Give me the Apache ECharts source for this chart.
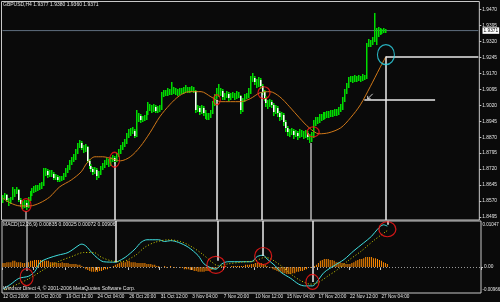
<!DOCTYPE html>
<html><head><meta charset="utf-8">
<script src="https://cdn.jsdelivr.net/npm/echarts@6/dist/echarts.min.js"></script>
<style>html,body{margin:0;padding:0;background:#0a0a0a}#c{width:500px;height:302px}</style>
</head><body><div id="c"></div>
<script>
const symbolText = 'GBPUSD,H4 1.9377 1.9380 1.9360 1.9371';
const macdText = 'MACD(12,26,9) 0.00835 0.00025 0.00072 0.00906';
const copyrightText = 'Windsor Direct 4, \u00a9 2001-2006 MetaQuotes Software Corp.';
const timeLabels = ['12 Oct 2006','16 Oct 20:00','19 Oct 12:00','24 Oct 04:00','26 Oct 20:00','31 Oct 12:00','3 Nov 04:00','7 Nov 20:00','10 Nov 12:00','15 Nov 04:00','17 Nov 20:00','22 Nov 12:00','27 Nov 04:00'];
const priceTicks = [1.8495,1.8570,1.8645,1.8720,1.8795,1.8870,1.8945,1.9020,1.9095,1.9170,1.9245,1.9320,1.9395,1.9470];
const bidPrice = 1.9371;
const macdTopLabel = '0.01047';
const macdBottomLabel = '-0.00966';

const opens = [
1.8575,1.8584,1.8599,1.8575,1.8566,1.8580,1.8594,1.8613,1.8622,1.8575,
1.8556,1.8547,1.8561,1.8542,1.8575,1.8603,1.8617,1.8622,1.8632,1.8627,
1.8641,1.8646,1.8702,1.8712,1.8693,1.8707,1.8698,1.8679,1.8684,1.8669,
1.8679,1.8674,1.8688,1.8707,1.8726,1.8749,1.8764,1.8773,1.8801,1.8829,
1.8843,1.8820,1.8811,1.8825,1.8759,1.8735,1.8721,1.8707,1.8716,1.8688,
1.8698,1.8726,1.8735,1.8749,1.8754,1.8745,1.8764,1.8773,1.8759,1.8782,
1.8801,1.8820,1.8829,1.8848,1.8877,1.8891,1.8895,1.8900,1.8877,1.8952,
1.8971,1.8952,1.8957,1.8961,1.8980,1.9018,1.9008,1.8999,1.9013,1.8994,
1.9004,1.9008,1.9070,1.9079,1.9074,1.9084,1.9079,1.9088,1.9093,1.9084,
1.9079,1.9088,1.9084,1.9093,1.9098,1.9088,1.9093,1.9098,1.9088,1.8999,
1.9008,1.8990,1.9008,1.8985,1.8975,1.8966,1.8971,1.8985,1.9027,1.9060,
1.9084,1.9074,1.9088,1.9060,1.9065,1.9074,1.9055,1.9065,1.9070,1.9060,
1.9074,1.9065,1.8999,1.9046,1.9060,1.9065,1.9084,1.9140,1.9150,1.9131,
1.9121,1.9140,1.9112,1.9084,1.9055,1.9032,1.9022,1.9037,1.9022,1.8990,
1.9008,1.8985,1.8966,1.8975,1.8942,1.8914,1.8895,1.8891,1.8900,1.8881,
1.8891,1.8877,1.8895,1.8886,1.8877,1.8891,1.8872,1.8862,1.8877,1.8933,
1.8952,1.8947,1.8966,1.8961,1.8975,1.8971,1.8980,1.8975,1.8985,1.8980,
1.8990,1.8985,1.8999,1.9008,1.9046,1.9084,1.9112,1.9140,1.9145,1.9140,
1.9150,1.9140,1.9150,1.9145,1.9154,1.9150,1.9305,1.9319,1.9310,1.9329,
1.9366,1.9357,1.9376,1.9366,1.9371,1.9377];
const closes = [
1.8584,1.8599,1.8575,1.8566,1.8580,1.8594,1.8613,1.8622,1.8575,1.8556,
1.8547,1.8561,1.8542,1.8575,1.8603,1.8617,1.8622,1.8632,1.8627,1.8641,
1.8646,1.8702,1.8712,1.8693,1.8707,1.8698,1.8679,1.8684,1.8669,1.8679,
1.8674,1.8688,1.8707,1.8726,1.8749,1.8764,1.8773,1.8801,1.8829,1.8843,
1.8820,1.8811,1.8825,1.8759,1.8735,1.8721,1.8707,1.8716,1.8688,1.8698,
1.8726,1.8735,1.8749,1.8754,1.8745,1.8764,1.8773,1.8759,1.8782,1.8801,
1.8820,1.8829,1.8848,1.8877,1.8891,1.8895,1.8900,1.8877,1.8952,1.8971,
1.8952,1.8957,1.8961,1.8980,1.9018,1.9008,1.8999,1.9013,1.8994,1.9004,
1.9008,1.9070,1.9079,1.9074,1.9084,1.9079,1.9088,1.9093,1.9084,1.9079,
1.9088,1.9084,1.9093,1.9098,1.9088,1.9093,1.9098,1.9088,1.8999,1.9008,
1.8990,1.9008,1.8985,1.8975,1.8966,1.8971,1.8985,1.9027,1.9060,1.9084,
1.9074,1.9088,1.9060,1.9065,1.9074,1.9055,1.9065,1.9070,1.9060,1.9074,
1.9065,1.8999,1.9046,1.9060,1.9065,1.9084,1.9140,1.9150,1.9131,1.9121,
1.9140,1.9112,1.9084,1.9055,1.9032,1.9022,1.9037,1.9022,1.8990,1.9008,
1.8985,1.8966,1.8975,1.8942,1.8914,1.8895,1.8891,1.8900,1.8881,1.8891,
1.8877,1.8895,1.8886,1.8877,1.8891,1.8872,1.8862,1.8877,1.8933,1.8952,
1.8947,1.8966,1.8961,1.8975,1.8971,1.8980,1.8975,1.8985,1.8980,1.8990,
1.8985,1.8999,1.9008,1.9046,1.9084,1.9112,1.9140,1.9145,1.9140,1.9150,
1.9140,1.9150,1.9145,1.9154,1.9150,1.9305,1.9319,1.9310,1.9329,1.9366,
1.9357,1.9376,1.9366,1.9371,1.9376,1.9371];
const highs = [
1.8599,1.8608,1.8603,1.8584,1.8589,1.8636,1.8627,1.8636,1.8627,1.8584,
1.8570,1.8575,1.8575,1.8589,1.8617,1.8632,1.8641,1.8646,1.8646,1.8655,
1.8660,1.8726,1.8726,1.8721,1.8716,1.8716,1.8707,1.8698,1.8693,1.8688,
1.8688,1.8702,1.8726,1.8740,1.8764,1.8778,1.8792,1.8815,1.8843,1.8858,
1.8853,1.8834,1.8839,1.8829,1.8768,1.8745,1.8731,1.8731,1.8726,1.8712,
1.8735,1.8749,1.8764,1.8773,1.8768,1.8778,1.8787,1.8782,1.8796,1.8815,
1.8834,1.8848,1.8862,1.8891,1.8909,1.8914,1.8919,1.8909,1.8999,1.8985,
1.8980,1.8971,1.8975,1.8994,1.9037,1.9027,1.9022,1.9027,1.9022,1.9018,
1.9022,1.9084,1.9093,1.9093,1.9103,1.9098,1.9131,1.9107,1.9103,1.9098,
1.9103,1.9103,1.9107,1.9117,1.9107,1.9107,1.9112,1.9107,1.9093,1.9022,
1.9018,1.9022,1.9018,1.8999,1.8985,1.8985,1.8999,1.9041,1.9074,1.9103,
1.9121,1.9103,1.9098,1.9079,1.9088,1.9084,1.9079,1.9084,1.9079,1.9088,
1.9084,1.9070,1.9055,1.9074,1.9079,1.9103,1.9159,1.9173,1.9159,1.9145,
1.9154,1.9150,1.9121,1.9093,1.9065,1.9046,1.9051,1.9046,1.9032,1.9022,
1.9018,1.8994,1.8990,1.8985,1.8952,1.8924,1.8909,1.8914,1.8909,1.8905,
1.8900,1.8909,1.8905,1.8900,1.8905,1.8900,1.8886,1.8895,1.8952,1.8966,
1.8966,1.8980,1.8980,1.8990,1.8990,1.8994,1.8994,1.8999,1.8999,1.9004,
1.9004,1.9013,1.9027,1.9060,1.9098,1.9126,1.9154,1.9159,1.9159,1.9164,
1.9159,1.9164,1.9159,1.9168,1.9164,1.9314,1.9333,1.9329,1.9343,1.9456,
1.9385,1.9390,1.9385,1.9380,1.9385,1.9380];
const lows = [
1.8561,1.8580,1.8566,1.8547,1.8556,1.8575,1.8589,1.8603,1.8566,1.8542,
1.8533,1.8537,1.8528,1.8537,1.8570,1.8594,1.8608,1.8613,1.8617,1.8622,
1.8627,1.8641,1.8688,1.8679,1.8684,1.8684,1.8669,1.8669,1.8660,1.8660,
1.8665,1.8669,1.8684,1.8702,1.8716,1.8740,1.8754,1.8764,1.8792,1.8820,
1.8811,1.8796,1.8801,1.8749,1.8721,1.8707,1.8693,1.8698,1.8669,1.8679,
1.8693,1.8716,1.8726,1.8740,1.8731,1.8735,1.8754,1.8745,1.8754,1.8778,
1.8792,1.8811,1.8825,1.8839,1.8867,1.8877,1.8886,1.8867,1.8872,1.8942,
1.8938,1.8942,1.8947,1.8952,1.8975,1.8994,1.8985,1.8990,1.8985,1.8985,
1.8990,1.8999,1.9060,1.9065,1.9065,1.9070,1.9070,1.9074,1.9070,1.9065,
1.9070,1.9074,1.9074,1.9084,1.9079,1.9079,1.9084,1.9079,1.8985,1.8990,
1.8975,1.8980,1.8971,1.8957,1.8952,1.8952,1.8961,1.8980,1.9018,1.9051,
1.9060,1.9065,1.9046,1.9046,1.9055,1.9041,1.9046,1.9055,1.9046,1.9051,
1.9055,1.8980,1.8990,1.9037,1.9051,1.9055,1.9074,1.9131,1.9117,1.9103,
1.9107,1.9098,1.9070,1.9041,1.9013,1.9004,1.9013,1.9008,1.8971,1.8980,
1.8966,1.8947,1.8952,1.8924,1.8895,1.8877,1.8872,1.8881,1.8862,1.8872,
1.8858,1.8867,1.8872,1.8862,1.8867,1.8858,1.8843,1.8848,1.8867,1.8924,
1.8933,1.8938,1.8947,1.8952,1.8957,1.8961,1.8961,1.8966,1.8966,1.8971,
1.8971,1.8975,1.8990,1.8999,1.9037,1.9074,1.9103,1.9131,1.9126,1.9131,
1.9131,1.9136,1.9131,1.9136,1.9140,1.9145,1.9296,1.9296,1.9305,1.9319,
1.9305,1.9343,1.9352,1.9357,1.9362,1.9360];

// moving average read at sampled bars [bar index, price]
const maPoints = [[0,1.8584],[4,1.8561],[9,1.8547],[14,1.8547],[19,1.8561],[24,1.8589],[29,1.8636],[35,1.8669],[40,1.8707],[43,1.8749],[47,1.8778],[51,1.8778],[56,1.8768],[60,1.8759],[65,1.8778],[70,1.8825],[75,1.8891],[80,1.8966],[85,1.9022],[90,1.9065],[95,1.9084],[101,1.9084],[106,1.9060],[111,1.9037],[116,1.9037],[121,1.9037],[126,1.9051],[131,1.9079],[136,1.9084],[141,1.9060],[146,1.9013],[151,1.8961],[156,1.8914],[161,1.8886],[166,1.8891],[172,1.8914],[177,1.8961],[182,1.9022],[187,1.9107],[192,1.9197],[195,1.9249]];

// MACD main (cyan) and signal (yellow dotted), sampled [bar index, value]
const macdMain = [[0,-0.0050],[4,-0.0039],[8,-0.0026],[13,-0.0021],[16,-0.0011],[19,0.0011],[23,0.0020],[28,0.0027],[33,0.0033],[39,0.0051],[40,0.0052],[42,0.0048],[45,0.0033],[48,0.0020],[51,0.0012],[57,0.0011],[58,0.0012],[62,0.0022],[67,0.0041],[70,0.0056],[73,0.0062],[79,0.0062],[82,0.0058],[85,0.0060],[89,0.0056],[94,0.0045],[99,0.0026],[102,0.0007],[106,-0.0003],[108,-0.0005],[111,0.0007],[114,0.0012],[121,0.0012],[126,0.0012],[129,0.0024],[132,0.0027],[134,0.0018],[138,0.0003],[141,-0.0012],[146,-0.0026],[150,-0.0039],[153,-0.0043],[157,-0.0043],[160,-0.0029],[163,-0.0012],[168,0.0003],[173,0.0017],[178,0.0037],[183,0.0055],[187,0.0070],[190,0.0086],[193,0.0096],[195,0.0093]];
const macdSignal = [[1,-0.0052],[13,-0.0027],[21,-0.0005],[28,0.0012],[35,0.0024],[41,0.0033],[46,0.0033],[50,0.0022],[55,0.0014],[60,0.0012],[67,0.0026],[72,0.0045],[77,0.0056],[84,0.0062],[90,0.0058],[95,0.0048],[101,0.0030],[106,0.0011],[109,0.0003],[114,0.0007],[121,0.0011],[128,0.0014],[133,0.0022],[136,0.0018],[141,0.0003],[146,-0.0016],[151,-0.0031],[156,-0.0039],[160,-0.0035],[165,-0.0020],[170,-0.0005],[175,0.0014],[182,0.0037],[188,0.0060],[195,0.0083]];
const osma = [
0.0009,0.0009,0.0011,0.0011,0.0011,0.0014,0.0014,0.0011,0.0011,0.0011,0.0009,0.0009,0.0011,
0.0011,0.0014,0.0014,0.0016,0.0016,0.0016,0.0016,0.0016,0.0014,0.0014,0.0014,0.0011,0.0011,
0.0011,0.0009,0.0009,0.0009,0.0011,0.0009,
0.0009,0.0009,0.0007,0.0007,0.0007,0.0007,0.0005,0.0005,0.0002,
-0.0002,-0.0005,-0.0007,-0.0009,-0.0011,-0.0011,-0.0011,-0.0011,-0.0009,-0.0009,-0.0007,-0.0005,-0.0005,-0.0002,0,
0.0002,0.0005,0.0007,0.0009,0.0011,0.0011,0.0011,0.0014,0.0014,0.0011,0.0011,0.0011,0.0009,0.0009,0.0009,
0.0009,0.0009,0.0007,0.0007,0.0007,0.0005,0.0005,0.0002,0.0002,0,
0,0.0002,-0.0002,0,0.0002,0,-0.0002,-0.0002,0,-0.0002,-0.0002,-0.0005,-0.0005,-0.0005,
-0.0007,-0.0007,-0.0009,-0.0009,-0.0011,-0.0011,-0.0011,-0.0011,-0.0009,-0.0009,-0.0009,-0.0007,-0.0005,-0.0005,
-0.0002,0,0.0002,0.0002,0.0002,0,0,0.0002,0.0002,0.0002,
0.0002,0.0002,0.0002,0.0002,0.0005,0.0005,0.0005,0.0007,0.0007,0.0009,0.0009,0.0009,
0.0009,0.0007,0.0005,0.0002,0,
-0.0002,-0.0005,-0.0007,-0.0009,-0.0011,-0.0011,-0.0014,-0.0014,-0.0016,-0.0016,-0.0016,-0.0014,-0.0014,-0.0011,-0.0011,-0.0009,-0.0009,-0.0007,-0.0005,-0.0002,-0.0002,
0,0.0002,0.0005,0.0009,
0.0014,0.0016,0.0018,0.0018,0.0018,0.0016,0.0016,0.0014,0.0011,0.0011,0.0011,0.0009,
0.0009,0.0007,0.0007,0.0007,0.0009,0.0011,0.0014,0.0016,
0.0018,0.0018,0.0020,0.0023,0.0023,0.0023,0.0023,0.0020,0.0020,0.0018,
0.0016,0.0014,0.0011,0.0009,0.0007];

// annotations (data positions)
const priceCircles = [[12,1.8551],[57,1.8764],[109,1.9046],[133,1.9079],[158,1.8895]];
const targetCircle = [[195,1.9258]];
const macdCircles = [[12,-0.0023],[108,0.0005],[132,0.0025],[157,-0.0034],[195,0.0086]];
const guideBars = [12,57,109,132,157,195];
const guideFromPrice = [1.8523,1.8754,1.9046,1.9079,1.8843,1.9249];
const guideToMacd = [-0.0009,0.0011,0.0014,0.0025,-0.0034,0.0096];
const levelLines = [[195,242,1.9249],[184,220,1.9046]];
const arrowMark = [[187,1.9062]];

// layout / style (not data)
const slotCount = 243;
const priceMin = 1.84809, priceMax = 1.95077;
const macdMin = -0.00592, macdMax = 0.01047;
const priceCircleSize = [[10,13],[10,15],[7,10],[12,12],[12,10]];
const macdCircleSize = [[13,17],[18,17],[17,17],[13,15],[17,15]];
const guideColorMain = ['#a8a8a8','#ececec','#ececec','#ececec','#b8b8b8','#ececec'];
const guideColorMacd = ['#a8a8a8','#ececec','#ececec','#ececec','#ececec','#ececec'];
const FONT = 'Liberation Sans';
const TXT = '#e4e4e4';

const cats = [];
for (let i = 0; i < slotCount; i++) cats.push(String(i));
const showTick = (idx) => idx % 16 === 0 && idx / 16 < timeLabels.length;

const chart = echarts.init(document.getElementById('c'), null, {renderer: 'canvas'});

function renderCandle(params, api) {
  const i = api.value(0);
  const o = api.value(1), c = api.value(2), l = api.value(3), h = api.value(4);
  const pH = api.coord([i, h]), pL = api.coord([i, l]);
  const pO = api.coord([i, o]), pC = api.coord([i, c]);
  const x = Math.floor(pH[0]);
  const yH = Math.round(pH[1]), yL = Math.round(pL[1]);
  const y1 = Math.round(Math.min(pO[1], pC[1])), y2 = Math.round(Math.max(pO[1], pC[1]));
  const bigBear = c < o && (y2 - y1) >= 3;
  const kids = [
    {type: 'rect', shape: {x: x, y: yH, width: 1.5, height: Math.max(1, yL - yH)}, style: {fill: '#00dc00'}}
  ];
  if (bigBear) kids.push({type: 'rect', shape: {x: x, y: y1, width: 1.5, height: y2 - y1}, style: {fill: '#ffffff'}});
  return {type: 'group', children: kids};
}

const guideMain = guideBars.map((b, k) => [{coord: [b, guideFromPrice[k]], lineStyle: {color: guideColorMain[k]}}, {coord: [b, priceMin]}]);
const guideMacd = guideBars.map((b, k) => [{coord: [b, macdMax], lineStyle: {color: guideColorMacd[k]}}, {coord: [b, guideToMacd[k]]}]);
const levelData = levelLines.map(l => [{coord: [l[0], l[2]]}, {coord: [l[1], l[2]]}]);
const txt = (s) => ({color: TXT, fontSize: s, fontWeight: 'normal', fontFamily: FONT});

const option = {
  backgroundColor: '#0a0a0a',
  animation: false,
  title: [
    {text: symbolText, left: 3, top: 2.5, padding: 0, textStyle: txt(5)},
    {text: macdText, left: 3, top: 222, padding: 0, textStyle: txt(5)},
    {text: copyrightText, left: 3, top: 286.5, padding: 0, textStyle: txt(5)}
  ],
  grid: [
    {left: 1.5, top: 1.5, width: 479.5, height: 218.5, show: true, borderColor: '#c8c8c8', borderWidth: 1, backgroundColor: 'transparent'},
    {left: 1.5, top: 221, width: 479.5, height: 72, show: true, borderColor: '#c8c8c8', borderWidth: 1, backgroundColor: 'transparent'}
  ],
  xAxis: [
    {type: 'category', gridIndex: 0, data: cats, boundaryGap: true, axisLine: {show: false}, axisTick: {show: false}, axisLabel: {show: false}, splitLine: {show: false}},
    {type: 'category', gridIndex: 1, data: cats, boundaryGap: true, axisLine: {show: false},
      axisTick: {show: true, interval: showTick, length: 3, lineStyle: {color: '#c8c8c8'}},
      axisLabel: {show: true, interval: showTick, align: 'left', margin: 1.5, color: TXT, fontSize: 4.7, fontFamily: FONT,
        formatter: (v, idx) => (idx % 16 === 0 && timeLabels[idx / 16]) || ''},
      splitLine: {show: false}}
  ],
  yAxis: [
    {type: 'value', gridIndex: 0, position: 'right', min: priceMin, max: priceMax,
      axisLine: {show: false}, splitLine: {show: false},
      axisTick: {show: true, length: 2, customValues: priceTicks, lineStyle: {color: '#c8c8c8'}},
      axisLabel: {show: true, customValues: priceTicks, margin: 3, color: TXT, fontSize: 4.8, fontFamily: FONT, formatter: v => v.toFixed(4)}},
    {type: 'value', gridIndex: 1, position: 'right', min: macdMin, max: macdMax,
      axisLine: {show: false}, splitLine: {show: false},
      axisTick: {show: true, length: 2, customValues: [0], lineStyle: {color: '#c8c8c8'}},
      axisLabel: {show: true, customValues: [0], margin: 3, color: TXT, fontSize: 4.8, fontFamily: FONT, formatter: v => v.toFixed(2)}}
  ],
  series: [
    {type: 'line', name: 'bid', xAxisIndex: 0, yAxisIndex: 0, z: 1, silent: true, showSymbol: false,
      data: [[0, bidPrice], [slotCount - 1, bidPrice]],
      lineStyle: {color: '#5f6e7e', width: 1}},
    {type: 'custom', name: 'price', xAxisIndex: 0, yAxisIndex: 0, renderItem: renderCandle, clip: true, z: 2,
      encode: {x: 0, y: [1, 2, 3, 4]},
      data: opens.map((o, i) => [i, o, closes[i], lows[i], highs[i]])},
    {type: 'line', name: 'MA', xAxisIndex: 0, yAxisIndex: 0, data: maPoints, showSymbol: false, smooth: 0.3,
      lineStyle: {color: '#d07818', width: 1}, z: 3},
    {type: 'line', name: 'guides', xAxisIndex: 0, yAxisIndex: 0, data: [], z: 5,
      markLine: {silent: true, symbol: ['none', 'none'], animation: false, label: {show: false},
        lineStyle: {color: '#e8e8e8', width: 1.5, type: 'solid'},
        data: guideMain.concat(levelData)}},
    {type: 'scatter', name: 'priceCircles', xAxisIndex: 0, yAxisIndex: 0, z: 6, silent: true,
      data: priceCircles.map((p, k) => ({value: p, symbolSize: priceCircleSize[k]})),
      symbol: 'circle', itemStyle: {color: 'rgba(0,0,0,0)', borderColor: '#ff1a1a', borderWidth: 1.2}},
    {type: 'scatter', name: 'target', xAxisIndex: 0, yAxisIndex: 0, z: 6, silent: true,
      data: targetCircle, symbol: 'circle', symbolSize: [17, 20],
      itemStyle: {color: 'rgba(0,0,0,0)', borderColor: '#30d8e8', borderWidth: 1.2}},
    {type: 'scatter', name: 'arrow', xAxisIndex: 0, yAxisIndex: 0, z: 6, silent: true,
      data: arrowMark, symbol: 'path://M0,10L10,0M0,10L0,4M0,10L6,10', symbolSize: 5,
      itemStyle: {color: 'rgba(0,0,0,0)', borderColor: '#ffffff', borderWidth: 1}},
    {type: 'bar', name: 'OsMA', xAxisIndex: 1, yAxisIndex: 1, data: osma, barWidth: 1,
      itemStyle: {color: '#ff8a00'}, z: 2,
      markLine: {silent: true, symbol: ['none', 'none'], animation: false, label: {show: false},
        lineStyle: {color: '#9a9a9a', width: 1, type: [1, 2]}, data: [{yAxis: 0}]}},
    {type: 'line', name: 'MACD', xAxisIndex: 1, yAxisIndex: 1, data: macdMain, showSymbol: false, smooth: 0.3,
      lineStyle: {color: '#40e0e0', width: 1}, z: 4},
    {type: 'line', name: 'Signal', xAxisIndex: 1, yAxisIndex: 1, data: macdSignal, showSymbol: false, smooth: 0.3,
      lineStyle: {color: '#d8d800', width: 1, type: [1, 2]}, z: 4},
    {type: 'line', name: 'guides2', xAxisIndex: 1, yAxisIndex: 1, data: [], z: 5,
      markLine: {silent: true, symbol: ['none', 'none'], animation: false, label: {show: false},
        lineStyle: {color: '#e8e8e8', width: 1.5, type: 'solid'},
        data: guideMacd}},
    {type: 'scatter', name: 'macdCircles', xAxisIndex: 1, yAxisIndex: 1, z: 6, silent: true,
      data: macdCircles.map((p, k) => ({value: p, symbolSize: macdCircleSize[k]})),
      symbol: 'circle', itemStyle: {color: 'rgba(0,0,0,0)', borderColor: '#ff1a1a', borderWidth: 1.2}}
  ]
};
chart.setOption(option);

// labels placed from the axis scales
const xRight = chart.convertToPixel({xAxisIndex: 1}, slotCount - 1) + 2.5;
const yTop = chart.convertToPixel({yAxisIndex: 1}, macdMax);
const yBot = chart.convertToPixel({yAxisIndex: 1}, macdMin);
const yBid = chart.convertToPixel({yAxisIndex: 0}, bidPrice);
chart.setOption({graphic: [
  {type: 'text', x: xRight, y: yTop + 1, style: {text: macdTopLabel, fill: TXT, fontSize: 4.5, fontFamily: FONT, verticalAlign: 'top'}},
  {type: 'text', x: xRight, y: yBot - 0.5, style: {text: macdBottomLabel, fill: TXT, fontSize: 4.5, fontFamily: FONT, verticalAlign: 'bottom'}},
  {type: 'text', x: xRight, y: yBid, z: 10, style: {text: bidPrice.toFixed(4), fill: '#000', fontSize: 4.8, fontFamily: FONT, verticalAlign: 'middle', backgroundColor: '#ffffff', padding: [1, 1, 0.5, 1]}}
]});
</script></body></html>
